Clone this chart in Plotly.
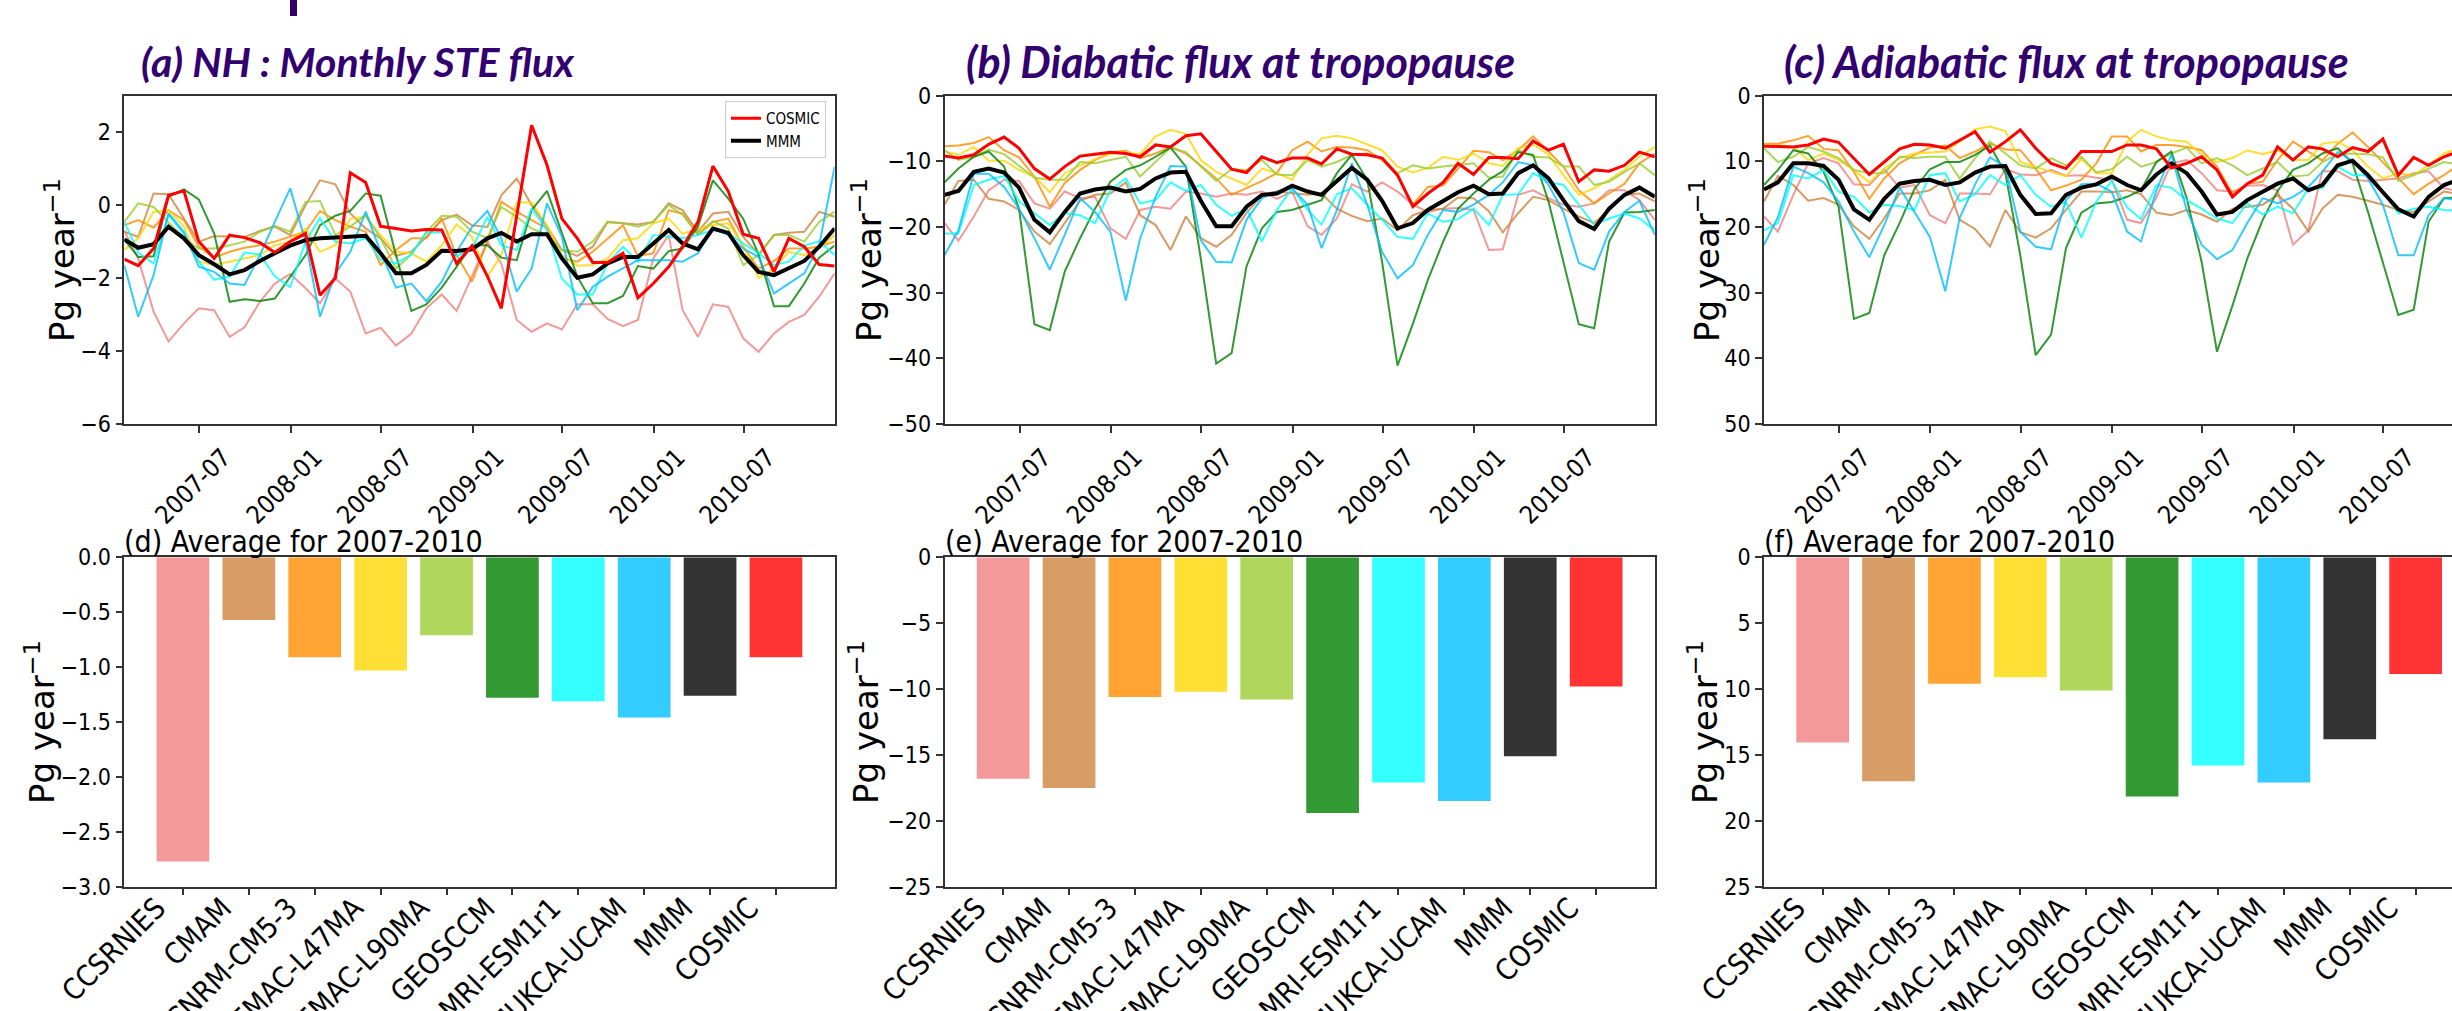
import pandas as pd
import plotly.graph_objects as go

# ---------------- data ----------------
dates = pd.date_range("2007-02-01", periods=48, freq="MS") - pd.Timedelta(days=1)

models = ["CCSRNIES", "CMAM", "CNRM-CM5-3", "EMAC-L47MA", "EMAC-L90MA",
          "GEOSCCM", "MRI-ESM1r1", "UMUKCA-UCAM", "MMM", "COSMIC"]
line_colors = ["lightcoral", "peru", "darkorange", "gold", "yellowgreen",
               "green", "cyan", "deepskyblue", "black", "red"]
bar_colors = ["#F39999", "#D79D65", "#FFA333", "#FFDF33", "#AED75B",
              "#339933", "#33FFFF", "#33CCFF", "#333333", "#FF3333"]

date_tick_vals = ["2007-07-01", "2008-01-01", "2008-07-01", "2009-01-01",
                  "2009-07-01", "2010-01-01", "2010-07-01"]
date_tick_text = ["2007-07", "2008-01", "2008-07", "2009-01",
                  "2009-07", "2010-01", "2010-07"]

# (a) net STE flux
ste_CCSRNIES = [-0.7, -1.46, -2.92, -3.74, -3.24, -2.83, -2.88, -3.61, -3.35, -2.65, -2.15, -1.89, -2.28, -2.69, -2.01, -2.37, -3.52, -3.36, -3.85, -3.52, -2.83, -2.45, -2.90, -1.96,
                -1.0, -1.6, -3.15, -3.47, -3.24, -3.41, -2.72, -2.72, -3.12, -3.32, -3.15, -1.46, -0.82, -2.88, -3.61, -2.72, -2.79, -3.65, -4.02, -3.52, -3.20, -3.01, -2.51, -1.87]
ste_CMAM = [-0.73, -0.87, 0.32, 0.30, -0.37, -1.0, -0.85, -0.87, -0.87, -0.71, -0.59, -0.82, 0.0, 0.68, 0.57, -0.23, -0.64, -0.91, -1.39, -1.28, -0.87, -0.41, -0.26, -0.55,
            -0.6, 0.27, 0.73, 0.0, -0.59, -1.23, -1.39, -1.14, -0.46, -0.5, -0.53, -0.46, 0.05, -0.14, -0.73, -0.23, -0.18, -0.87, -1.35, -0.82, -0.76, -0.73, -0.18, -0.32]
ste_CNRM = [-0.55, -0.41, -0.62, -0.14, -0.41, -1.14, -1.44, -1.28, -1.17, -1.1, -1.0, -0.87, -0.73, -0.16, -0.41, -0.59, -0.73, -1.64, -1.23, -0.91, -0.91, -0.37, -1.37, -2.1,
            -1.0, 0.09, -0.18, -0.41, -0.64, -1.46, -1.55, -1.28, -0.91, -0.55, -1.39, -1.32, -0.14, -0.23, -0.82, -0.46, -0.37, -1.14, -1.74, -1.53, -1.19, -1.19, -1.14, -1.0]
ste_L47 = [-1.23, -0.91, -0.18, -0.14, -0.59, -1.55, -1.64, -1.55, -1.46, -1.37, -1.1, -1.0, -0.64, -1.28, -1.1, -0.37, -0.32, -0.82, -1.28, -1.32, -1.55, -1.1, -0.53, -0.87,
           -1.96, -1.37, 0.07, 0.07, -0.55, -1.37, -1.66, -1.64, -1.46, -0.96, -0.91, -0.5, -0.37, -0.78, -0.64, -0.55, -0.5, -1.1, -1.99, -1.74, -1.28, -1.37, -1.19, -0.82]
ste_L90 = [-0.46, 0.05, -0.05, -0.46, -0.91, -1.19, -1.19, -1.1, -1.0, -0.73, -0.57, -0.73, 0.09, 0.11, -0.82, -0.59, -0.27, -0.91, -1.74, -1.35, -0.73, -0.29, -0.32, -0.73,
           -0.9, -0.05, -0.32, -0.64, -0.82, -1.23, -1.28, -1.0, -0.46, -0.5, -0.59, -0.46, 0.0, -0.26, -0.8, -0.44, -0.64, -1.64, -1.37, -0.82, -0.82, -1.0, -0.46, -0.18]
ste_GEOS = [-0.94, -1.42, -1.40, 0.23, 0.43, 0.16, -0.78, -2.65, -2.58, -2.63, -2.56, -1.96, -1.37, -0.55, -0.29, -0.16, 0.32, 0.26, -1.37, -2.9, -2.72, -2.26, -1.69, -1.1,
            -1.1, -1.44, -1.51, -0.14, 0.39, -0.78, -1.96, -2.69, -2.69, -2.49, -1.67, -1.74, -1.26, -1.19, -0.59, 0.68, 0.18, -0.37, -1.35, -2.77, -2.77, -2.15, -1.44, -1.11]
ste_MRI = [-0.45, -1.3, -1.6, -0.25, -0.8, -1.55, -2.05, -1.95, -1.3, -1.35, -1.95, -2.25, -1.0, -0.35, -1.0, -1.05, -0.9, -1.5, -1.6, -1.35, -0.75, -0.75, -1.4, -1.2,
           -0.32, -1.1, -1.23, -0.09, -0.68, -2.01, -2.45, -2.45, -1.6, -1.14, -1.55, -0.82, -0.87, -0.91, -0.82, -0.68, -0.78, -1.05, -1.32, -1.64, -1.55, -1.11, -0.99, -1.37]
ste_UMUKCA = [-1.64, -3.06, -1.92, -0.23, -0.73, -1.69, -1.83, -2.15, -2.19, -1.37, -0.46, 0.46, -1.0, -3.06, -1.87, -1.28, -0.18, -1.28, -2.26, -2.15, -2.63, -2.10, -1.28, -0.6,
              -0.16, -0.91, -2.37, -1.74, 0.05, -0.87, -2.88, -2.24, -1.96, -1.74, -1.51, -1.51, -1.51, -1.55, -1.32, -0.64, -0.82, -1.19, -1.42, -2.42, -2.15, -1.87, -1.10, 1.05]
ste_MMM = [-0.94, -1.17, -1.07, -0.59, -0.91, -1.37, -1.62, -1.90, -1.78, -1.53, -1.32, -1.11, -0.96, -0.91, -0.89, -0.87, -0.84, -1.32, -1.87, -1.87, -1.64, -1.25, -1.26, -1.21,
           -0.91, -0.76, -1.0, -0.80, -0.80, -1.46, -1.99, -1.90, -1.60, -1.42, -1.42, -1.05, -0.68, -1.05, -1.21, -0.64, -0.76, -1.37, -1.83, -1.92, -1.72, -1.53, -1.14, -0.64]
ste_COSMIC = [-1.48, -1.66, -1.19, 0.27, 0.39, -1.0, -1.46, -0.82, -0.89, -1.03, -1.3, -1.0, -0.78, -2.47, -2.0, 0.89, 0.62, -0.58, -0.64, -0.71, -0.67, -0.68, -1.60, -1.12,
              -1.95, -2.83, -0.3, 2.19, 1.1, -0.37, -0.91, -1.57, -1.57, -1.32, -2.54, -2.15, -1.69, -1.14, -0.46, 1.07, 0.38, -0.80, -0.91, -1.83, -0.91, -1.14, -1.63, -1.67]

# (b) diabatic flux
dia_CCSRNIES = [-19.4, -22.1, -18.4, -14.4, -12.8, -13.0, -16.4, -17.2, -14.6, -15.6, -15.4, -20.2, -21.8, -17.4, -16.9, -17.2, -14.6, -14.9, -15.4, -14.9, -15.1, -14.6, -15.7, -14.6,
                -19.9, -21.2, -18.7, -13.5, -14.6, -13.2, -14.6, -16.6, -17.7, -17.2, -17.1, -17.4, -23.5, -23.4, -15.1, -14.4, -15.6, -16.6, -16.9, -16.4, -14.4, -14.4, -15.9, -18.9]
dia_CMAM = [-16.6, -13.0, -12.8, -15.7, -16.1, -17.4, -20.7, -22.6, -19.4, -16.0, -15.1, -14.9, -13.2, -18.2, -19.7, -23.5, -18.4, -21.7, -23.0, -21.2, -17.9, -15.1, -14.6, -14.9,
            -15.1, -14.9, -17.2, -18.3, -19.1, -18.7, -20.5, -18.2, -17.4, -17.2, -15.5, -15.6, -17.6, -20.8, -17.9, -15.4, -15.9, -17.2, -18.4, -19.4, -17.4, -15.1, -14.9, -16.1]
dia_CNRM = [-7.7, -7.6, -7.2, -6.3, -8.3, -9.4, -12.3, -16.9, -13.3, -11.3, -9.8, -8.6, -8.4, -9.5, -8.8, -7.8, -8.8, -10.6, -12.6, -15.1, -14.1, -13.0, -11.8, -8.3,
            -7.0, -8.5, -7.8, -7.9, -8.3, -9.8, -12.1, -16.6, -13.9, -13.7, -11.1, -8.4, -8.6, -9.8, -8.3, -6.2, -8.5, -10.8, -14.4, -16.4, -14.9, -13.4, -10.3, -8.8]
dia_L47 = [-8.5, -9.0, -7.8, -9.9, -9.9, -11.3, -12.3, -14.7, -11.8, -10.6, -9.7, -8.9, -8.6, -8.9, -6.2, -5.2, -5.8, -9.8, -11.6, -12.6, -13.6, -11.1, -11.8, -12.8,
           -9.0, -6.5, -6.1, -6.5, -7.4, -8.3, -10.8, -11.7, -11.0, -9.3, -9.8, -8.8, -10.3, -10.7, -8.0, -7.4, -9.0, -12.1, -15.1, -14.1, -12.8, -11.3, -9.3, -7.8]
dia_L90 = [-8.3, -9.8, -9.3, -8.2, -8.9, -10.6, -12.5, -12.8, -12.8, -10.1, -10.3, -9.8, -9.3, -12.3, -10.1, -7.9, -8.6, -10.8, -13.0, -11.2, -11.3, -9.8, -12.0, -12.1,
           -9.8, -10.8, -10.1, -9.0, -8.8, -9.5, -11.8, -10.6, -11.1, -10.8, -10.6, -10.3, -12.5, -12.3, -8.3, -9.3, -9.4, -10.8, -10.8, -13.6, -13.1, -11.6, -10.3, -12.1]
dia_GEOS = [-13.2, -11.1, -9.3, -8.5, -10.8, -17.2, -34.8, -35.7, -26.8, -21.7, -17.2, -13.1, -11.3, -10.6, -9.3, -7.9, -10.8, -24.8, -40.8, -39.2, -26.0, -20.2, -17.7, -17.4,
            -16.6, -15.9, -11.8, -9.0, -12.8, -25.3, -41.1, -34.7, -28.1, -22.2, -17.2, -14.9, -12.8, -11.5, -8.6, -9.0, -16.1, -25.3, -34.8, -35.4, -22.2, -17.8, -17.7, -17.4]
dia_MRI = [-21.0, -21.0, -13.6, -12.8, -12.2, -16.1, -17.9, -19.7, -17.9, -18.2, -19.4, -14.4, -12.6, -16.4, -15.9, -13.2, -14.5, -13.6, -16.6, -18.3, -17.2, -22.2, -17.4, -14.1,
           -17.4, -19.6, -15.0, -14.1, -16.6, -18.9, -21.5, -21.8, -17.9, -19.2, -18.8, -17.2, -19.7, -15.1, -15.0, -11.8, -13.1, -13.6, -16.6, -19.7, -18.7, -17.9, -18.7, -20.5]
dia_UMUKCA = [-24.3, -20.5, -11.9, -11.9, -13.9, -17.2, -21.7, -26.5, -21.2, -15.6, -17.7, -20.7, -31.2, -21.7, -15.4, -10.7, -10.8, -22.0, -25.3, -25.4, -18.9, -15.6, -14.6, -14.1,
              -16.6, -23.2, -17.4, -10.3, -16.6, -23.8, -27.8, -25.8, -21.2, -17.4, -17.7, -16.6, -15.1, -13.2, -10.1, -10.6, -13.6, -17.7, -25.5, -26.5, -20.7, -17.7, -16.0, -21.2]
dia_MMM = [-15.1, -14.5, -11.6, -11.1, -11.7, -14.0, -18.9, -20.8, -17.7, -14.9, -14.3, -14.0, -14.6, -14.2, -12.6, -11.7, -11.6, -16.0, -19.9, -19.9, -16.9, -15.1, -14.9, -13.7,
           -14.6, -15.1, -13.0, -11.0, -12.8, -16.0, -20.2, -19.4, -17.4, -16.1, -14.7, -13.7, -15.0, -14.9, -11.8, -10.6, -12.6, -15.9, -19.1, -20.3, -17.2, -15.1, -14.0, -15.4]
dia_COSMIC = [-9.2, -9.5, -9.0, -7.4, -6.3, -8.0, -11.1, -12.7, -10.8, -9.2, -8.9, -8.6, -8.8, -9.3, -7.5, -7.8, -6.1, -5.8, -8.5, -11.2, -11.7, -9.3, -10.2, -9.5,
              -9.5, -10.4, -8.1, -8.9, -9.0, -9.5, -12.1, -16.9, -14.9, -13.2, -10.3, -12.0, -9.4, -9.4, -9.6, -6.9, -8.3, -7.4, -13.1, -11.3, -11.5, -10.6, -8.6, -9.3]

# (c) adiabatic flux (positive, plotted on an inverted axis)
adi_CCSRNIES = [18.4, 20.7, 15.1, 10.3, 9.5, 10.3, 13.5, 13.6, 11.2, 14.0, 13.6, 18.2, 19.4, 14.9, 14.9, 15.0, 11.2, 12.0, 12.1, 11.3, 12.2, 12.1, 12.5, 12.8,
                18.9, 19.4, 15.5, 10.3, 9.8, 11.8, 14.4, 14.6, 13.7, 13.6, 14.4, 22.7, 20.5, 11.5, 11.5, 12.8, 13.0, 12.8, 12.6, 11.8, 11.5, 14.1, 14.5, 15.0]
adi_CMAM = [16.1, 12.2, 13.6, 16.0, 15.6, 16.6, 19.9, 21.8, 18.7, 14.9, 14.9, 14.4, 12.8, 18.9, 20.3, 23.0, 17.4, 20.8, 21.6, 20.2, 17.4, 14.6, 14.6, 14.7,
            14.4, 15.0, 17.8, 18.2, 17.4, 18.1, 19.2, 17.2, 16.9, 16.6, 15.1, 17.2, 20.7, 17.2, 15.1, 15.4, 16.0, 16.6, 17.4, 17.7, 16.1, 14.6, 15.0, 15.5]
adi_CNRM = [7.3, 7.3, 6.8, 6.1, 8.1, 8.3, 11.6, 15.7, 12.6, 10.3, 9.0, 7.9, 7.6, 9.5, 8.5, 7.3, 8.2, 8.3, 11.1, 14.4, 13.7, 12.8, 10.3, 6.2,
            6.2, 8.5, 7.5, 7.5, 7.8, 8.3, 10.8, 14.9, 13.4, 13.1, 9.8, 7.0, 8.5, 9.9, 7.3, 5.6, 7.8, 10.1, 12.6, 15.0, 13.4, 12.1, 10.5, 9.0]
adi_L47 = [7.5, 7.5, 7.8, 9.8, 8.8, 9.8, 11.3, 13.2, 11.1, 9.5, 8.8, 8.6, 8.5, 7.0, 5.1, 4.7, 5.4, 10.1, 10.8, 11.6, 12.3, 9.6, 11.8, 11.8,
           7.0, 5.2, 6.2, 6.8, 7.0, 9.0, 10.1, 9.5, 8.3, 8.9, 8.3, 9.8, 9.8, 7.3, 7.0, 8.3, 10.8, 12.6, 11.8, 12.1, 10.6, 8.8, 8.0, 7.5]
adi_L90 = [8.0, 10.1, 9.3, 7.8, 8.5, 9.5, 11.3, 11.8, 11.8, 9.3, 9.5, 9.3, 9.3, 12.6, 9.5, 7.0, 8.8, 10.6, 11.1, 9.5, 10.6, 9.3, 11.7, 11.2,
           9.3, 10.8, 10.1, 8.8, 7.9, 10.3, 9.5, 10.6, 12.1, 11.1, 10.1, 12.3, 12.1, 10.1, 8.9, 8.8, 8.9, 9.4, 13.0, 12.1, 11.1, 10.1, 10.5, 11.0]
adi_GEOS = [13.6, 11.3, 8.3, 8.8, 11.6, 16.9, 34.0, 33.1, 24.3, 19.4, 14.2, 11.2, 10.1, 10.1, 9.0, 7.6, 11.8, 24.3, 39.5, 36.4, 23.2, 17.8, 16.4, 16.2,
            15.4, 14.4, 10.1, 8.5, 15.6, 25.3, 39.0, 32.0, 24.8, 18.9, 14.5, 11.3, 10.3, 8.8, 8.0, 10.3, 17.7, 25.3, 33.4, 32.6, 19.2, 15.6, 15.5, 15.8]
adi_MRI = [20.5, 19.4, 12.1, 12.6, 11.3, 14.6, 15.4, 17.8, 16.6, 16.8, 17.4, 12.1, 11.8, 16.1, 15.0, 12.1, 13.6, 12.1, 15.1, 16.9, 16.2, 21.6, 16.1, 13.0,
           17.0, 18.8, 13.6, 14.0, 15.9, 17.2, 18.7, 19.4, 16.4, 18.1, 16.9, 17.9, 14.1, 14.1, 10.8, 12.1, 12.1, 14.6, 17.9, 17.2, 16.9, 17.4, 17.5, 18.0]
adi_UMUKCA = [22.7, 18.5, 10.8, 11.8, 13.2, 16.1, 20.7, 24.6, 19.7, 14.0, 17.7, 21.5, 29.8, 18.6, 13.5, 9.4, 10.8, 20.7, 23.0, 23.4, 15.9, 13.5, 13.4, 14.6,
              20.7, 22.2, 14.4, 9.0, 17.4, 22.7, 24.9, 23.5, 19.4, 15.6, 16.4, 15.4, 13.9, 11.6, 8.6, 9.9, 12.6, 16.6, 24.3, 24.3, 18.2, 15.6, 16.0, 17.0]
adi_MMM = [14.3, 13.2, 10.3, 10.3, 10.7, 12.8, 17.3, 18.9, 15.7, 13.4, 13.0, 12.8, 13.6, 13.2, 11.7, 10.8, 10.7, 15.1, 18.0, 17.9, 15.1, 14.0, 13.5, 12.3,
           13.6, 14.4, 12.0, 10.3, 11.8, 14.6, 18.1, 17.7, 15.9, 14.6, 13.4, 12.6, 14.4, 13.6, 10.6, 9.9, 12.1, 14.7, 17.3, 18.4, 15.4, 13.6, 12.8, 13.5]
adi_COSMIC = [7.7, 7.8, 7.8, 7.5, 6.6, 7.1, 9.5, 12.0, 10.1, 8.1, 7.4, 7.5, 8.0, 6.8, 5.5, 8.6, 7.0, 5.2, 8.0, 10.3, 11.1, 8.5, 8.5, 8.5,
              7.5, 7.5, 8.1, 11.0, 10.3, 9.3, 11.3, 15.4, 13.4, 12.1, 7.8, 9.8, 7.8, 8.1, 9.3, 7.9, 8.5, 6.6, 12.1, 9.4, 10.6, 9.3, 8.5, 8.5]

# 2007-2010 averages
avg_ste = [-2.77, -0.57, -0.91, -1.03, -0.71, -1.28, -1.31, -1.46, -1.26, -0.91]
avg_dia = [-16.8, -17.5, -10.6, -10.2, -10.8, -19.4, -17.1, -18.5, -15.1, -9.8]
avg_adi = [14.05, 17.0, 9.6, 9.1, 10.1, 18.15, 15.8, 17.1, 13.8, 8.86]

ste_series = [ste_CCSRNIES, ste_CMAM, ste_CNRM, ste_L47, ste_L90, ste_GEOS, ste_MRI, ste_UMUKCA, ste_MMM, ste_COSMIC]
dia_series = [dia_CCSRNIES, dia_CMAM, dia_CNRM, dia_L47, dia_L90, dia_GEOS, dia_MRI, dia_UMUKCA, dia_MMM, dia_COSMIC]
adi_series = [adi_CCSRNIES, adi_CMAM, adi_CNRM, adi_L47, adi_L90, adi_GEOS, adi_MRI, adi_UMUKCA, adi_MMM, adi_COSMIC]

# ---------------- layout helpers ----------------
W, H = 2452, 1011
def fx(px):
    return px / W
def fy(py):
    return 1 - py / H

col_left = [124.3, 944.5, 1764.0]
col_w = 710.3
top_y = (95.7, 424.0)
bot_y = (557.3, 886.7)

NARROW = "DejaVu Sans Condensed, DejaVu Sans, sans-serif"
TICKFONT = dict(family=NARROW, size=23, color="black")
AXLINE = dict(showline=True, linecolor="#333333", linewidth=1.5, ticks="outside",
              ticklen=7, tickwidth=1.5, tickcolor="#333333", showgrid=False,
              zeroline=False, tickfont=TICKFONT, automargin=False)

fig = go.Figure()

panels_ts = [ste_series, dia_series, adi_series]
for p, series in enumerate(panels_ts):
    xa = "x" if p == 0 else f"x{p+1}"
    ya = "y" if p == 0 else f"y{p+1}"
    for name, col, vals in zip(models, line_colors, series):
        if name == "MMM":
            lw, op = 4, 1.0
        elif name == "COSMIC":
            lw, op = 3, 1.0
        else:
            lw, op = 2, 0.8
        fig.add_trace(go.Scatter(
            x=dates, y=vals, mode="lines", name=name, xaxis=xa, yaxis=ya,
            line=dict(color=col, width=lw), opacity=op,
            showlegend=(p == 0 and name in ("MMM", "COSMIC")),
            legendrank=(1 if name == "COSMIC" else 2),
        ))

bar_sets = [avg_ste, avg_dia, avg_adi]
for p, vals in enumerate(bar_sets):
    fig.add_trace(go.Bar(x=models, y=vals, xaxis=f"x{p+4}", yaxis=f"y{p+4}", width=0.8,
                         marker=dict(color=bar_colors, line=dict(width=0)),
                         showlegend=False))

# visible fraction of the right-hand column (cut by the image edge)
vis_c = (W - col_left[2]) / col_w
d0, d1 = dates[0], dates[-1]
x_full = [d0, d1]
x_cut = [d0, d0 + (d1 - d0) * vis_c]
bar_full = [-0.89, 9.89]
bar_cut = [-0.89, -0.89 + (9.89 + 0.89) * vis_c]

layout = dict(
    width=W, height=H, margin=dict(l=0, r=0, t=0, b=0),
    paper_bgcolor="white", plot_bgcolor="white",
    showlegend=True,
    legend=dict(x=fx(826), xanchor="right", y=fy(101), yanchor="top",
                bgcolor="white", bordercolor="#cccccc", borderwidth=1,
                font=dict(family=NARROW, size=15, color="black"),
                tracegroupgap=0, itemwidth=30),
)

y_ranges = [[-6, 3], [-50, 0], [50, 0]]
y_ticks = [[-6, -4, -2, 0, 2], [-50, -40, -30, -20, -10, 0], [0, 10, 20, 30, 40, 50]]
for p in range(3):
    key = "" if p == 0 else str(p + 1)
    dom_x = [fx(col_left[p]), min(1.0, fx(col_left[p] + col_w))]
    layout["xaxis" + key] = dict(AXLINE, domain=dom_x, anchor="y" + key, type="date",
                                 range=(x_cut if p == 2 else x_full),
                                 tickvals=date_tick_vals, ticktext=date_tick_text,
                                 tickangle=-45, mirror=True, ticklabelshift=24,
                                 tickfont=dict(family=NARROW, size=25, color="black"))
    layout["yaxis" + key] = dict(AXLINE, domain=[fy(top_y[1]), fy(top_y[0])],
                                 anchor="x" + key, range=y_ranges[p],
                                 tickvals=y_ticks[p], mirror=(p != 2))

yb_ranges = [[-3, 0], [-25, 0], [25, 0]]
yb_ticks = [[-3.0, -2.5, -2.0, -1.5, -1.0, -0.5, 0.0], [-25, -20, -15, -10, -5, 0], [0, 5, 10, 15, 20, 25]]
for p in range(3):
    key = str(p + 4)
    dom_x = [fx(col_left[p]), min(1.0, fx(col_left[p] + col_w))]
    layout["xaxis" + key] = dict(AXLINE, domain=dom_x, anchor="y" + key, type="category",
                                 range=(bar_cut if p == 2 else bar_full),
                                 tickangle=-45, mirror=True,
                                 ticklabelshift=-26, ticklabelstandoff=-16,
                                 tickfont=dict(family=NARROW, size=29, color="black"))
    layout["yaxis" + key] = dict(AXLINE, domain=[fy(bot_y[1]), fy(bot_y[0])],
                                 anchor="x" + key, range=yb_ranges[p],
                                 tickvals=yb_ticks[p],
                                 tickformat=(".1f" if p == 0 else "d"),
                                 mirror=(p != 2))

fig.update_layout(**layout)

# ---------------- texts ----------------
PURPLE = "#33006F"
head_titles = ["(a) NH : Monthly STE flux", "(b) Diabatic flux at tropopause",
               "(c) Adiabatic flux at tropopause"]
head_x = [139, 964, 1782]
head_size = [41, 43, 43]
for t, x, s in zip(head_titles, head_x, head_size):
    fig.add_annotation(text=f"<b><i>{t}</i></b>", x=fx(x), y=fy(61), xref="paper", yref="paper",
                       xanchor="left", yanchor="middle", showarrow=False,
                       font=dict(family="Lato, sans-serif", size=s, color=PURPLE))

bar_titles = ["(d) Average for 2007-2010", "(e) Average for 2007-2010", "(f) Average for 2007-2010"]
for t, x in zip(bar_titles, col_left):
    fig.add_annotation(text=t, x=fx(x - 2), y=fy(541), xref="paper", yref="paper",
                       xanchor="left", yanchor="middle", showarrow=False,
                       font=dict(family=NARROW, size=30, color="black"))

ylab = "Pg year<sup>\u22121</sup>"
for x, y in [(60, 260), (867, 260), (1705, 260), (40, 722), (864, 722), (1703, 722)]:
    fig.add_annotation(text=ylab, x=fx(x), y=fy(y), xref="paper", yref="paper",
                       xanchor="center", yanchor="middle", textangle=-90, showarrow=False,
                       font=dict(family="DejaVu Sans", size=34, color="black"))

# fragment of a clipped heading at the very top
fig.add_shape(type="rect", xref="paper", yref="paper", x0=fx(290), x1=fx(297), y0=fy(16), y1=fy(0),
              fillcolor=PURPLE, line=dict(width=0))

fig.write_html("out.html", config={"displayModeBar": False},
               post_script="document.body.style.margin='0px';")
